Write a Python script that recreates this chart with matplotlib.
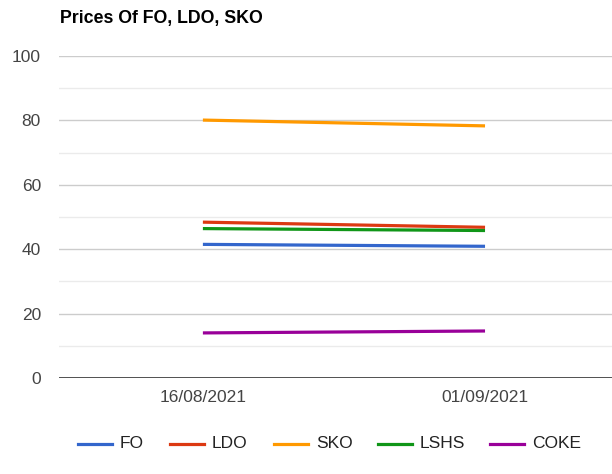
import matplotlib
matplotlib.use("Agg")
import matplotlib.pyplot as plt
from matplotlib.lines import Line2D

dates = ["16/08/2021", "01/09/2021"]
series_names = ["FO", "LDO", "SKO", "LSHS", "COKE"]
fo = [41.5, 40.9]
ldo = [48.4, 46.8]
sko = [80.1, 78.3]
lshs = [46.4, 45.8]
coke = [14.0, 14.6]
y_ticks = [0, 20, 40, 60, 80, 100]
y_minor = [10, 30, 50, 70, 90]

colors = ["#3366cc", "#dc3912", "#ff9900", "#109618", "#990099"]
values = [fo, ldo, sko, lshs, coke]

W, H = 612, 474
fig = plt.figure(figsize=(W / 100, H / 100), dpi=100)
plt.rcParams['font.family'] = ['Liberation Sans', 'DejaVu Sans']

left_px, right_px, top_px, bot_px = 59, 612, 56, 378
ax = fig.add_axes([left_px / W, (H - bot_px) / H, (right_px - left_px) / W, (bot_px - top_px) / H])

x = list(range(len(dates)))
for name, vals, c in zip(series_names, values, colors):
    ax.plot(x, vals, color=c, lw=2.3, solid_capstyle='butt', zorder=3)

ax.set_ylim(0, 100)
ax.set_xlim(-0.51, 1.45)
ax.set_yticks(y_ticks)
ax.set_yticks(y_minor, minor=True)
ax.set_xticks(x)
ax.set_xticklabels(dates)
for v in y_ticks[1:]:
    ax.axhline(v, color="#cccccc", lw=1, zorder=1)
for v in y_minor:
    ax.axhline(v, color="#ebebeb", lw=1, zorder=1)
ax.axhline(0, color="#333333", lw=1.2, zorder=4)
for s in ax.spines.values():
    s.set_visible(False)
ax.tick_params(axis='both', which='both', length=0, labelsize=12.5, colors="#444444")
ax.tick_params(axis='y', pad=13)
ax.tick_params(axis='x', pad=9)

fig.text(60 / W, 1 - 18 / H, "Prices Of FO, LDO, SKO", fontsize=12.8, fontweight='bold',
         color='black', ha='left', va='center')

# legend
leg_y = 1 - 444 / H
line_starts = [78, 170, 274, 378, 490]
for name, c, xs in zip(series_names, colors, line_starts):
    fig.add_artist(Line2D([xs / W, (xs + 34) / W], [leg_y, leg_y], color=c, lw=2.3,
                          transform=fig.transFigure))
    fig.text((xs + 42) / W, leg_y, name, fontsize=12.5, color="#222222", ha='left', va='center')

fig.savefig("out.png", dpi=100)
